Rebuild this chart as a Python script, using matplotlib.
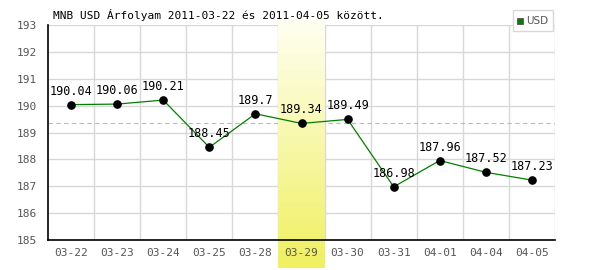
import numpy as np
import matplotlib
matplotlib.use("Agg")
import matplotlib.pyplot as plt
from matplotlib.patches import Rectangle
from matplotlib.colors import LinearSegmentedColormap

dates = ["03-22", "03-23", "03-24", "03-25", "03-28", "03-29", "03-30", "03-31", "04-01", "04-04", "04-05"]
values = [190.04, 190.06, 190.21, 188.45, 189.7, 189.34, 189.49, 186.98, 187.96, 187.52, 187.23]
labels = ["190.04", "190.06", "190.21", "188.45", "189.7", "189.34", "189.49", "186.98", "187.96", "187.52", "187.23"]
highlight_idx = 5
title = "MNB USD Árfolyam 2011-03-22 és 2011-04-05 között."
yticks = [185, 186, 187, 188, 189, 190, 191, 192, 193]

font = "DejaVu Sans Mono"
fig = plt.figure(figsize=(6, 2.7), dpi=100)
ax = fig.add_axes([0.08, 0.111, 0.845, 0.796])
x = np.arange(len(dates))

# grid
for yv in yticks:
    ax.axhline(yv, color="#d8d8d8", lw=1, zorder=1)
for xv in np.arange(0.5, len(dates), 1):
    ax.axvline(xv, color="#d8d8d8", lw=1, zorder=1)

ax.axhline(values[highlight_idx], color="#a8c8a8", lw=0.8, ls=(0, (4, 3)), zorder=1.5)

# highlight gradient band (covers grid)
cmap = LinearSegmentedColormap.from_list("hl", ["#fffff2", "#f0f060"])
grad = np.linspace(0, 1, 100).reshape(-1, 1)
ax.imshow(grad, cmap=cmap, aspect="auto",
          extent=[highlight_idx - 0.5, highlight_idx + 0.5, 183.95, 193.19],
          origin="upper", clip_on=False, zorder=2)
ax.set_xlim(-0.5, len(dates) - 0.5)
ax.set_ylim(185, 193)

ax.plot(x, values, color="#008000", lw=0.9, zorder=3)
ax.plot(x, values, "o", color="black", ms=5.2, zorder=4)
for xi, v, lab in zip(x, values, labels):
    ax.annotate(lab, (xi, v), xytext=(0, 5), textcoords="offset points",
                ha="center", va="bottom", fontsize=8.5, family=font, color="black", zorder=5)

for s in ["top", "right"]:
    ax.spines[s].set_visible(False)
for s in ["left", "bottom"]:
    ax.spines[s].set_color("black")
    ax.spines[s].set_linewidth(1.2)
    ax.spines[s].set_zorder(6)

ax.set_xticks(x)
ax.set_xticklabels(dates, family=font, fontsize=8, color="#555555")
ax.set_yticks(yticks)
ax.set_yticklabels([str(t) for t in yticks], family=font, fontsize=8, color="#555555")
ax.tick_params(length=0, pad=6)
ax.tick_params(axis="y", pad=8)
ax.xaxis.set_zorder(7)
ax.yaxis.set_zorder(7)

fig.text(0.088, 0.945, title, family=font, fontsize=8, color="black", ha="left", va="center")

# legend
lx0, ly0, lw, lh = 513 / 600, 1 - 31 / 270, 40 / 600, 21 / 270
fig.patches.append(Rectangle((lx0, ly0), lw, lh, transform=fig.transFigure,
                             facecolor="white", edgecolor="#d8d8d8", lw=1, zorder=10))
fig.patches.append(Rectangle((517 / 600, 1 - 24 / 270), 6 / 600, 6 / 270, transform=fig.transFigure,
                             facecolor="#008000", edgecolor="#555555", lw=0.6, zorder=11))
fig.text(526 / 600, 1 - 20.5 / 270, "USD", fontsize=7.5, color="#555555", ha="left", va="center", zorder=12)

fig.savefig("out.png", dpi=100)
